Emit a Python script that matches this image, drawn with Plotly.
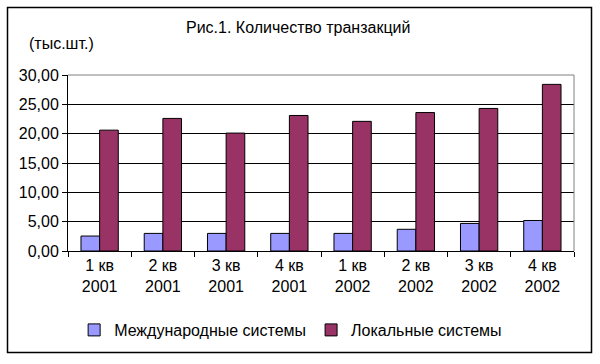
import plotly.graph_objects as go

categories = ["1 кв<br>2001", "2 кв<br>2001", "3 кв<br>2001", "4 кв<br>2001",
              "1 кв<br>2002", "2 кв<br>2002", "3 кв<br>2002", "4 кв<br>2002"]
international = [2.55, 3.0, 3.0, 3.0, 3.0, 3.7, 4.7, 5.2]
local = [20.6, 22.6, 20.1, 23.1, 22.1, 23.6, 24.3, 28.4]
series_names = ["Международные системы", "Локальные системы"]
title_text = "Рис.1. Количество транзакций"
unit_text = "(тыс.шт.)"

FONT = "Liberation Sans"
FS = 16
W, H = 600, 364
L, R, T, B = 68, 26, 75, 113
pw, ph = W - L - R, H - T - B

fig = go.Figure()
fig.add_trace(go.Bar(x=categories, y=international, name=series_names[0],
                     marker=dict(color="#9999FF", line=dict(color="black", width=1))))
fig.add_trace(go.Bar(x=categories, y=local, name=series_names[1],
                     marker=dict(color="#993366", line=dict(color="black", width=1))))

def px_x(x):
    return (x - L) / pw

def px_y(y):
    return 1 - (y - T) / ph

fig.update_layout(
    width=W, height=H,
    margin=dict(l=L, r=R, t=T, b=B),
    paper_bgcolor="white", plot_bgcolor="white",
    font=dict(family=FONT, size=FS, color="black"),
    separators=", ",
    barmode="group", bargap=0.41, bargroupgap=0,
    showlegend=True,
    legend=dict(orientation="h", x=0.44, xanchor="center", y=px_y(330), yanchor="middle",
                font=dict(size=FS), itemwidth=30, traceorder="normal",
                tracegroupgap=0),
    xaxis=dict(showline=True, linecolor="black", linewidth=1, ticks="outside",
               tickson="boundaries", ticklen=5, tickcolor="black", showgrid=False,
               tickfont=dict(size=FS)),
    yaxis=dict(range=[0, 30], tickvals=[0, 5, 10, 15, 20, 25, 30], tickformat=".2f",
               showline=True, linecolor="black", linewidth=1, ticks="outside",
               ticklen=5, tickcolor="black", showgrid=True, gridcolor="black",
               gridwidth=1, zeroline=False, tickfont=dict(size=FS)),
    shapes=[
        dict(type="line", xref="paper", yref="paper", x0=0, x1=1, y0=1, y1=1,
             line=dict(color="#808080", width=1), layer="above"),
        dict(type="line", xref="paper", yref="paper", x0=1, x1=1, y0=0, y1=1,
             line=dict(color="#808080", width=1), layer="above"),
        dict(type="rect", xref="paper", yref="paper", x0=px_x(7.5), x1=px_x(591.5),
             y0=px_y(352.5), y1=px_y(7.5), line=dict(color="black", width=1.5)),
    ],
    annotations=[
        dict(text=title_text, xref="paper", yref="paper", x=px_x(298), y=px_y(28),
             xanchor="center", yanchor="middle", showarrow=False, font=dict(size=FS)),
        dict(text=unit_text, xref="paper", yref="paper", x=px_x(27), y=px_y(44),
             xanchor="left", yanchor="middle", showarrow=False, font=dict(size=FS)),
    ],
)

fig.write_html("out.html")
